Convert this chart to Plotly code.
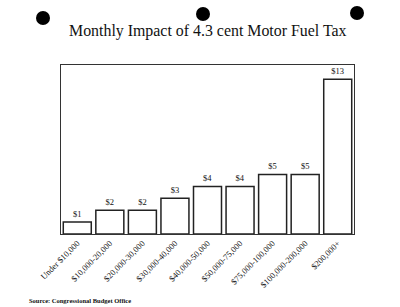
import plotly.graph_objects as go

categories = ["Under $10,000", "$10,000-20,000", "$20,000-30,000", "$30,000-40,000",
              "$40,000-50,000", "$50,000-75,000", "$75,000-100,000", "$100,000-200,000",
              "$200,000+"]
values = [1, 2, 2, 3, 4, 4, 5, 5, 13]
value_labels = ["$1", "$2", "$2", "$3", "$4", "$4", "$5", "$5", "$13"]

W, H = 400, 307
L, R, T, B = 61, 46, 65, 73

fig = go.Figure(go.Bar(
    x=categories, y=values, text=value_labels, textposition="outside",
    textfont=dict(family="Liberation Serif", size=8.5, color="#111"),
    marker=dict(color="white", line=dict(color="#222", width=1.5)),
    width=0.86, cliponaxis=False,
))

serif = "Liberation Serif"
fig.update_layout(
    width=W, height=H, margin=dict(l=L, r=R, t=T, b=B),
    paper_bgcolor="white", plot_bgcolor="white", showlegend=False,
    font=dict(family=serif, color="#111"),
    xaxis=dict(range=[-0.5, 8.5], tickangle=-45, tickfont=dict(size=8.5, family=serif),
               showline=True, mirror=True, linecolor="#333", linewidth=1.2,
               ticks="", showgrid=False),
    yaxis=dict(range=[0, 14.2], showticklabels=False, showgrid=False, zeroline=False,
               showline=True, mirror=True, linecolor="#333", linewidth=1.2, ticks=""),
)

def px_to_paper_x(px):
    return (px - L) / (W - L - R)

def px_to_paper_y(py):
    return (H - B - py) / (H - T - B)

# punch holes
for cx, cy in [(43, 18), (203, 14), (357, 13)]:
    fig.add_shape(type="circle", xref="paper", yref="paper",
                  xsizemode="pixel", ysizemode="pixel",
                  xanchor=px_to_paper_x(cx), yanchor=px_to_paper_y(cy),
                  x0=-7, x1=7, y0=-7, y1=7,
                  fillcolor="black", line=dict(color="black", width=0))

fig.add_annotation(text="Monthly Impact of 4.3 cent Motor Fuel Tax",
                   xref="paper", yref="paper", x=px_to_paper_x(208), y=px_to_paper_y(31),
                   xanchor="center", yanchor="middle", showarrow=False,
                   font=dict(family=serif, size=15.9, color="#111"))
fig.add_annotation(text="<b>Source: Congressional Budget Office</b>",
                   xref="paper", yref="paper", x=px_to_paper_x(27), y=px_to_paper_y(300),
                   xanchor="left", yanchor="middle", showarrow=False,
                   font=dict(family=serif, size=6.5, color="#111"))

fig.write_html("out.html")
